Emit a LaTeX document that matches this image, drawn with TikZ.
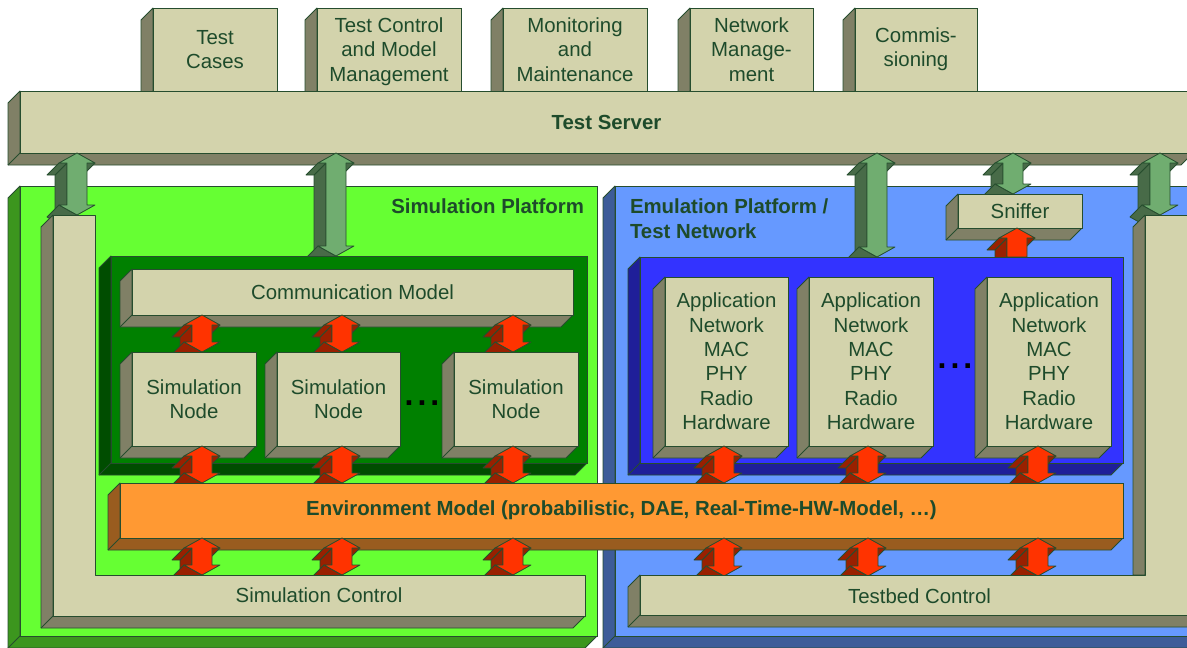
\documentclass[tikz,border=0pt]{standalone}
\usepackage{fontspec}
\setmainfont{Liberation Sans}
\usetikzlibrary{calc}

\definecolor{beige}{HTML}{D3D3AC}
\definecolor{beigeside}{HTML}{808066}
\definecolor{edge}{HTML}{264D2E}
\definecolor{ink}{HTML}{1E4B2B}
\definecolor{ltgreen}{HTML}{66FF33}
\definecolor{ltgreenside}{HTML}{3C961E}
\definecolor{dkgreen}{HTML}{008000}
\definecolor{dkgreenside}{HTML}{004D00}
\definecolor{ltblue}{HTML}{6699FF}
\definecolor{ltblueside}{HTML}{3D5C99}
\definecolor{dkblue}{HTML}{3333FF}
\definecolor{dkblueside}{HTML}{1F1F99}
\definecolor{envorange}{HTML}{FF9933}
\definecolor{envside}{HTML}{995C1F}
\definecolor{linkgreen}{HTML}{70AD70}
\definecolor{linkgreenside}{HTML}{486B48}
\definecolor{linkred}{HTML}{FF3300}
\definecolor{linkredside}{HTML}{992000}

% stacking order of the drawing
\pgfdeclarelayer{uplinks}
\pgfdeclarelayer{sniff}
\pgfdeclarelayer{sniffarrow}
\pgfdeclarelayer{cores}
\pgfdeclarelayer{toplinks}
\pgfdeclarelayer{units}
\pgfdeclarelayer{midlinks}
\pgfdeclarelayer{envlayer}
\pgfdeclarelayer{lowlinks}
\pgfdeclarelayer{controls}
\pgfsetlayers{main,uplinks,sniff,sniffarrow,cores,toplinks,units,midlinks,envlayer,lowlinks,controls}

% arrow geometry: shaft half width, head half width, head length
\def\arrw{10pt}
\def\arrh{18pt}
\def\arrl{10pt}

% extruded box: name, x1, y1, x2, y2, front colour, side colour, text
\newcommand\solidbox[8]{%
  \filldraw[faceedge, fill=#7] (#2,#3) -- ++(-12,12) -- (#2-12,#5+12) -- (#4-12,#5+12) -- (#4,#5) -- (#2,#5) -- cycle;
  \draw[faceedge] (#2,#5) -- ++(-12,12);
  \node[front, fill=#6, minimum width={#4-#2}, minimum height={#5-#3}] (#1) at ({(#2+#4)/2},{(#3+#5)/2}) {#8};
}

% extruded double arrow: upper end, lower end, front colour, side colour, depth
\newcommand\dblarrow[5]{%
  \filldraw[faceedge, fill=#4] let \p1=#1, \p2=#2 in
    (\x1-\arrw,\y1-\arrl) -- (\x1-\arrw,\y2+\arrl) -- (\x1-\arrw-#5pt,\y2+\arrl-#5pt) -- (\x1-\arrw-#5pt,\y1-\arrl-#5pt) -- cycle;
  \filldraw[faceedge, fill=#4] let \p1=#1, \p2=#2 in
    (\x1-\arrw,\y1-\arrl) -- (\x1-\arrh,\y1-\arrl) -- (\x1-\arrh-#5pt,\y1-\arrl-#5pt) -- (\x1-\arrw-#5pt,\y1-\arrl-#5pt) -- cycle;
  \filldraw[faceedge, fill=#4] let \p1=#1, \p2=#2 in
    (\x1+\arrh,\y1-\arrl) -- (\x1+\arrw,\y1-\arrl) -- (\x1+\arrw-#5pt,\y1-\arrl-#5pt) -- (\x1+\arrh-#5pt,\y1-\arrl-#5pt) -- cycle;
  \filldraw[faceedge, fill=#4] let \p1=#1, \p2=#2 in
    (\x1,\y2) -- (\x1-\arrh,\y2+\arrl) -- (\x1-\arrh-#5pt,\y2+\arrl-#5pt) -- (\x1-#5pt,\y2-#5pt) -- cycle;
  \filldraw[faceedge, fill=#3] let \p1=#1, \p2=#2 in
    (\x1,\y1) -- (\x1+\arrh,\y1-\arrl) -- (\x1+\arrw,\y1-\arrl) -- (\x1+\arrw,\y2+\arrl) -- (\x1+\arrh,\y2+\arrl)
    -- (\x1,\y2) -- (\x1-\arrh,\y2+\arrl) -- (\x1-\arrw,\y2+\arrl) -- (\x1-\arrw,\y1-\arrl) -- (\x1-\arrh,\y1-\arrl) -- cycle;
}

% extruded single arrow pointing up: tail end, tip end, front colour, side colour, depth
\newcommand\singlearrow[5]{%
  \filldraw[faceedge, fill=#4] let \p1=#1, \p2=#2 in
    (\x2-\arrw,\y2-\arrl) -- (\x2-\arrw,\y1) -- (\x2-\arrw-#5pt,\y1-#5pt) -- (\x2-\arrw-#5pt,\y2-\arrl-#5pt) -- cycle;
  \filldraw[faceedge, fill=#4] let \p1=#1, \p2=#2 in
    (\x2-\arrw,\y2-\arrl) -- (\x2-\arrh,\y2-\arrl) -- (\x2-\arrh-#5pt,\y2-\arrl-#5pt) -- (\x2-\arrw-#5pt,\y2-\arrl-#5pt) -- cycle;
  \filldraw[faceedge, fill=#4] let \p1=#1, \p2=#2 in
    (\x2+\arrh,\y2-\arrl) -- (\x2+\arrw,\y2-\arrl) -- (\x2+\arrw-#5pt,\y2-\arrl-#5pt) -- (\x2+\arrh-#5pt,\y2-\arrl-#5pt) -- cycle;
  \filldraw[faceedge, fill=#3] let \p1=#1, \p2=#2 in
    (\x2,\y2) -- (\x2+\arrh,\y2-\arrl) -- (\x2+\arrw,\y2-\arrl) -- (\x2+\arrw,\y1) -- (\x2-\arrw,\y1)
    -- (\x2-\arrw,\y2-\arrl) -- (\x2-\arrh,\y2-\arrl) -- cycle;
}

% last line of a label without its descender
\newcommand\nodepth[1]{\raisebox{0pt}[\height][0pt]{#1}}

\begin{document}
\begin{tikzpicture}[x=1pt,y=-1pt,
  faceedge/.style={draw=edge, line width=0.8pt, line join=round},
  front/.style={draw=edge, line width=0.8pt, inner sep=0pt, outer sep=0pt,
    align=center, text=ink, font=\fontsize{20.4}{24.4}\selectfont},
  region/.style={inner sep=0pt, outer sep=0pt, align=center, text=ink,
    font=\fontsize{20.4}{24.4}\selectfont},
  title/.style={inner sep=0pt, outer sep=0pt, text=ink,
    font=\fontsize{20.4}{25}\selectfont\bfseries},
  dots/.style={inner sep=0pt, text=black, font=\fontsize{32}{32}\selectfont\bfseries}]

\useasboundingbox (0,0) rectangle (1187,648);

% columns of the vertical links
\coordinate (g1) at (77,0);
\coordinate (g2) at (336,0);
\coordinate (g3) at (877,0);
\coordinate (g4) at (1013,0);
\coordinate (g5) at (1160,0);
\coordinate (s1) at (202,0);
\coordinate (s2) at (342,0);
\coordinate (s3) at (513,0);
\coordinate (e1) at (724,0);
\coordinate (e2) at (868,0);
\coordinate (e3) at (1038,0);
\coordinate (sn) at (1017,0);

% tools on top of the server
\solidbox{cases}{153}{8}{277}{91}{beige}{beigeside}{Test\\Cases}
\solidbox{ctrl}{317}{8}{461}{91}{beige}{beigeside}{Test Control\\and Model\\\nodepth{Management}}
\solidbox{monit}{503}{8}{647}{91}{beige}{beigeside}{Monitoring\\and\\Maintenance}
\solidbox{netman}{690}{8}{813}{91}{beige}{beigeside}{Network\\Manage-\\ment}
\solidbox{commis}{855}{8}{977}{91}{beige}{beigeside}{Commis-\\sioning}

% test server
\solidbox{srv}{20}{91}{1193}{153}{beige}{beigeside}{\bfseries Test Server}

% platforms
\solidbox{simp}{20}{186}{597}{636}{ltgreen}{ltgreenside}{}
\solidbox{emup}{615}{186}{1199}{636}{ltblue}{ltblueside}{}
\node[title, anchor=north east] (simtitle) at (584,199) {Simulation Platform};
\node[title, anchor=north west, align=left] (emutitle) at (630,199) {Emulation Platform /\\Test Network};

% control frames (drawn on top of everything else)
\begin{pgfonlayer}{controls}
  \filldraw[faceedge, fill=beigeside] (53,215) -- (41,227) -- (41,628) -- (573,628) -- (585,616) -- (53,616) -- cycle;
  \draw[faceedge] (53,616) -- (41,628);
  \filldraw[faceedge, fill=beige] (53,215) -- (95,215) -- (95,575) -- (585,575) -- (585,616) -- (53,616) -- cycle;
  \node[region, minimum width=42, minimum height=360] (simbar) at (74,395) {};
  \node[region, minimum width=532, minimum height=41] (simctl) at (319,595.5) {Simulation Control};

  \filldraw[faceedge, fill=beigeside] (1145,215) -- (1133,227) -- (1133,575) -- (1145,575) -- cycle;
  \filldraw[faceedge, fill=beigeside] (640,575) -- (628,587) -- (628,627) -- (1199,627) -- (1199,615) -- (640,615) -- cycle;
  \draw[faceedge] (640,615) -- (628,627);
  \filldraw[faceedge, fill=beige] (1145,215) -- (1199,215) -- (1199,615) -- (640,615) -- (640,575) -- (1145,575) -- cycle;
  \node[region, minimum width=54, minimum height=360] (tbbar) at (1172,395) {};
  \node[region, minimum width=559, minimum height=41] (tbctl) at (919.5,596.5) {Testbed Control};
\end{pgfonlayer}

% sniffer
\begin{pgfonlayer}{sniff}
  \solidbox{snf}{958}{194}{1082}{228}{beige}{beigeside}{Sniffer}
\end{pgfonlayer}

% simulation core and emulated network
\begin{pgfonlayer}{cores}
  \solidbox{simcore}{111}{256}{587}{463}{dkgreen}{dkgreenside}{}
  \solidbox{emucore}{640}{257}{1123}{463}{dkblue}{dkblueside}{}
  \solidbox{comm}{132}{269}{573}{315}{beige}{beigeside}{Communication Model}
\end{pgfonlayer}

% simulation nodes and protocol stacks
\begin{pgfonlayer}{units}
  \solidbox{n1}{132}{352}{256}{446}{beige}{beigeside}{Simulation\\Node}
  \solidbox{n2}{277}{352}{400}{446}{beige}{beigeside}{Simulation\\Node}
  \solidbox{n3}{454}{352}{578}{446}{beige}{beigeside}{Simulation\\Node}
  \node[dots] (simdots) at (422,403) {.\hspace{4pt}.\hspace{4pt}.};
  \solidbox{a1}{665}{277}{788}{446}{beige}{beigeside}{Application\\Network\\MAC\\PHY\\Radio\\Hardware}
  \solidbox{a2}{809}{277}{933}{446}{beige}{beigeside}{Application\\Network\\MAC\\PHY\\Radio\\Hardware}
  \solidbox{a3}{987}{277}{1111}{446}{beige}{beigeside}{Application\\Network\\MAC\\PHY\\Radio\\Hardware}
  \node[dots] (emudots) at (955,366) {.\hspace{4pt}.\hspace{4pt}.};
\end{pgfonlayer}

% environment model
\begin{pgfonlayer}{envlayer}
  \solidbox{env}{120}{483}{1123}{538}{envorange}{envside}{\bfseries Environment Model (probabilistic, DAE, Real-Time-HW-Model, …)}
\end{pgfonlayer}

% links from the test server
\begin{pgfonlayer}{uplinks}
  \dblarrow{(g1 |- srv.south)}{(g1 |- simbar.north)}{linkgreen}{linkgreenside}{12}
  \dblarrow{(g2 |- srv.south)}{(g2 |- simcore.north)}{linkgreen}{linkgreenside}{12}
  \dblarrow{(g3 |- srv.south)}{(g3 |- emucore.north)}{linkgreen}{linkgreenside}{12}
  \dblarrow{(g4 |- srv.south)}{(g4 |- snf.north)}{linkgreen}{linkgreenside}{12}
  \dblarrow{(g5 |- srv.south)}{(g5 |- tbbar.north)}{linkgreen}{linkgreenside}{12}
\end{pgfonlayer}

% network to sniffer
\begin{pgfonlayer}{sniffarrow}
  \singlearrow{(sn |- emucore.north)}{(sn |- snf.south)}{linkred}{linkredside}{12}
\end{pgfonlayer}

% communication model to simulation nodes
\begin{pgfonlayer}{toplinks}
  \dblarrow{(s1 |- comm.south)}{(s1 |- n1.north)}{linkred}{linkredside}{12}
  \dblarrow{(s2 |- comm.south)}{(s2 |- n2.north)}{linkred}{linkredside}{12}
  \dblarrow{(s3 |- comm.south)}{(s3 |- n3.north)}{linkred}{linkredside}{12}
\end{pgfonlayer}

% nodes and stacks to the environment model
\begin{pgfonlayer}{midlinks}
  \dblarrow{(s1 |- n1.south)}{(s1 |- env.north)}{linkred}{linkredside}{12}
  \dblarrow{(s2 |- n2.south)}{(s2 |- env.north)}{linkred}{linkredside}{12}
  \dblarrow{(s3 |- n3.south)}{(s3 |- env.north)}{linkred}{linkredside}{12}
  \dblarrow{(e1 |- a1.south)}{(e1 |- env.north)}{linkred}{linkredside}{12}
  \dblarrow{(e2 |- a2.south)}{(e2 |- env.north)}{linkred}{linkredside}{12}
  \dblarrow{(e3 |- a3.south)}{(e3 |- env.north)}{linkred}{linkredside}{12}
\end{pgfonlayer}

% environment model to the control frames
\begin{pgfonlayer}{lowlinks}
  \dblarrow{(s1 |- env.south)}{(s1 |- simctl.north)}{linkred}{linkredside}{12}
  \dblarrow{(s2 |- env.south)}{(s2 |- simctl.north)}{linkred}{linkredside}{12}
  \dblarrow{(s3 |- env.south)}{(s3 |- simctl.north)}{linkred}{linkredside}{12}
  \dblarrow{(e1 |- env.south)}{(e1 |- tbctl.north)}{linkred}{linkredside}{12}
  \dblarrow{(e2 |- env.south)}{(e2 |- tbctl.north)}{linkred}{linkredside}{12}
  \dblarrow{(e3 |- env.south)}{(e3 |- tbctl.north)}{linkred}{linkredside}{12}
\end{pgfonlayer}

\end{tikzpicture}
\end{document}
